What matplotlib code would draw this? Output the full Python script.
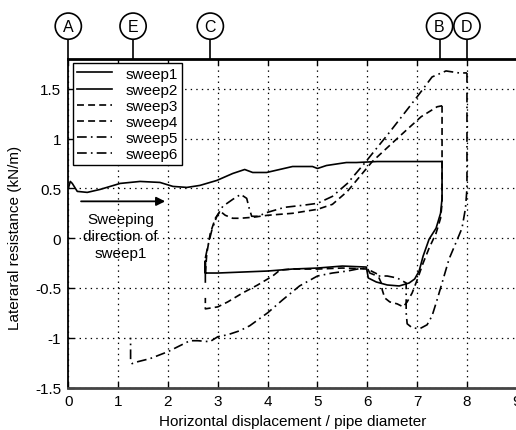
import matplotlib
matplotlib.use("Agg")
import matplotlib.pyplot as plt
import matplotlib.transforms as mtransforms

plt.rcParams['font.family'] = ['Liberation Sans', 'DejaVu Sans']
plt.rcParams['lines.scale_dashes'] = False

# ---- data ----
x1 = [0.0, 0.04, 0.08, 0.18, 0.38, 0.64, 1.04, 1.44, 1.84, 2.1, 2.38, 2.64, 2.98, 3.3, 3.54,
      3.7, 3.98, 4.5, 4.9, 5.0, 5.18, 5.58, 5.78, 6.2, 6.6, 7.0, 7.5]
y1 = [0.5, 0.57, 0.55, 0.47, 0.46, 0.49, 0.55, 0.57, 0.56, 0.52, 0.51, 0.53, 0.58, 0.65, 0.69,
      0.66, 0.66, 0.72, 0.72, 0.70, 0.73, 0.76, 0.76, 0.77, 0.77, 0.77, 0.77]

x2 = [7.5, 7.5, 7.47, 7.38, 7.24, 7.12, 7.04, 6.95, 6.84, 6.64, 6.4, 6.18, 6.02, 5.98, 5.5,
      5.0, 4.5, 4.0, 3.5, 3.0, 2.75, 2.75, 2.75]
y2 = [0.77, 0.4, 0.25, 0.1, -0.01, -0.18, -0.33, -0.41, -0.45, -0.48, -0.47, -0.44, -0.4,
      -0.29, -0.28, -0.3, -0.31, -0.33, -0.34, -0.35, -0.35, -0.23, -0.44]

x3 = [2.75, 2.78, 2.85, 2.95, 3.05, 3.15, 3.3, 3.45, 3.7, 4.0, 4.5, 5.0, 5.3, 5.6, 6.1,
      6.64, 7.08, 7.4, 7.5]
y3 = [-0.35, -0.15, 0.05, 0.2, 0.27, 0.23, 0.2, 0.2, 0.21, 0.23, 0.25, 0.29, 0.34, 0.47,
      0.77, 1.02, 1.22, 1.32, 1.33]

x4 = [7.5, 7.5, 7.47, 7.38, 7.24, 7.12, 7.0, 6.9, 6.8, 6.72, 6.6, 6.45, 6.35, 6.3, 6.28,
      6.2, 6.0, 5.5, 5.0, 4.5, 4.25, 4.1, 3.8, 3.5, 3.2, 3.0, 2.75, 2.75]
y4 = [1.33, 0.35, 0.2, 0.05, -0.1, -0.25, -0.42, -0.55, -0.64, -0.69, -0.66, -0.64, -0.6,
      -0.52, -0.45, -0.36, -0.31, -0.3, -0.31, -0.31, -0.32, -0.38, -0.47, -0.55, -0.64,
      -0.69, -0.71, -0.6]

x5 = [2.75, 2.8, 2.88, 2.98, 3.1, 3.3, 3.46, 3.58, 3.63, 3.68, 3.8, 4.0, 4.34, 4.7, 5.0,
      5.3, 5.6, 5.94, 6.44, 7.0, 7.3, 7.58, 7.84, 8.0]
y5 = [-0.2, -0.08, 0.08, 0.22, 0.32, 0.39, 0.44, 0.4, 0.3, 0.22, 0.22, 0.26, 0.31, 0.33,
      0.35, 0.42, 0.55, 0.75, 1.06, 1.42, 1.62, 1.68, 1.66, 1.66]

x6 = [8.0, 8.0, 7.97, 7.9, 7.8, 7.64, 7.5, 7.4, 7.3, 7.2, 7.05, 6.9, 6.8, 6.78, 6.78, 6.6,
      6.4, 6.2, 6.05, 6.0, 5.8, 5.6, 5.3, 5.0, 4.64, 4.3, 4.0, 3.64, 3.44, 3.2, 3.0, 2.84,
      2.6, 2.44, 2.2, 2.0, 1.64, 1.4, 1.28, 1.25, 1.25]
y6 = [1.66, 0.5, 0.3, 0.1, -0.02, -0.21, -0.45, -0.62, -0.78, -0.87, -0.91, -0.9, -0.86,
      -0.75, -0.45, -0.4, -0.38, -0.38, -0.35, -0.3, -0.31, -0.33, -0.35, -0.38, -0.48,
      -0.62, -0.75, -0.88, -0.93, -0.97, -0.99, -1.04, -1.03, -1.03, -1.09, -1.14, -1.21,
      -1.24, -1.26, -1.22, -1.0]

series_labels = ['sweep1', 'sweep2', 'sweep3', 'sweep4', 'sweep5', 'sweep6']
marker_labels = ['A', 'E', 'C', 'B', 'D']
marker_x = [0.0, 1.3, 2.85, 7.45, 8.0]
xticks = [0, 1, 2, 3, 4, 5, 6, 7, 8, 9]
yticks = [-1.5, -1, -0.5, 0, 0.5, 1, 1.5]
ytick_labels = ['-1.5', '-1', '-0.5', '0', '0.5', '1', '1.5']

# ---- figure ----
W, H = 516, 431
fig = plt.figure(figsize=(W / 100, H / 100), dpi=100)
ax = fig.add_axes([68.3 / W, (H - 388.5) / H, (516.8 - 68.3) / W, (388.5 - 60) / H])

solid = '-'
dashed = (0, (5, 3))
dashdot = (0, (7, 3, 1.2, 3))
styles = [solid, solid, dashed, dashed, dashdot, dashdot]
xs = [x1, x2, x3, x4, x5, x6]
ys = [y1, y2, y3, y4, y5, y6]
handles = []
for xx, yy, ls, lab in zip(xs, ys, styles, series_labels):
    h, = ax.plot(xx, yy, color='black', lw=1.2, linestyle=ls, label=lab)
    handles.append(h)

ax.set_xlim(0, 9)
ax.set_ylim(-1.5, 1.8)
ax.set_xticks(xticks)
ax.set_yticks(yticks)
ax.set_yticklabels(ytick_labels)
ax.tick_params(direction='in', length=4, width=1, labelsize=11, top=True, right=False,
               pad=5, colors='black')
ax.grid(True, color='black', linestyle=(0, (1, 3)), linewidth=0.9)

ax.spines['top'].set_linewidth(2.0)
ax.spines['bottom'].set_linewidth(2.0)
ax.spines['bottom'].set_color('#444444')
ax.spines['left'].set_linewidth(1.3)
ax.spines['right'].set_visible(False)

ax.set_xlabel('Horizontal displacement / pipe diameter', fontsize=11, labelpad=4)
ax.set_ylabel('Lateraral resistance (kN/m)', fontsize=11)
ax.yaxis.set_label_coords(-0.103, 0.457)

leg = ax.legend(handles=handles, loc='upper left', bbox_to_anchor=(0.0105, 0.988),
                borderaxespad=0, fontsize=11, frameon=True, fancybox=False,
                edgecolor='black', framealpha=1, labelspacing=0.14,
                handlelength=2.3, handletextpad=0.9, borderpad=0.25)
leg.get_frame().set_linewidth(1.0)

# Sweeping direction arrow and text
ax.annotate('', xy=(2.0, 0.37), xytext=(0.2, 0.37),
            arrowprops=dict(arrowstyle='-|>', color='black', lw=1.3, mutation_scale=13))
ax.text(1.05, 0.02, 'Sweeping\ndirection of\nsweep1', ha='center', va='center',
        fontsize=11, linespacing=1.25)

# Circled markers above the axes
trans = mtransforms.blended_transform_factory(ax.transData, ax.transAxes)
for lab, mx in zip(marker_labels, marker_x):
    ax.plot([mx, mx], [1.0, 1.067], transform=trans, color='black', lw=1.2, clip_on=False)
    ax.text(mx, 1.1, lab, transform=trans, ha='center', va='center', fontsize=11.5,
            bbox=dict(boxstyle='circle,pad=0.35', fc='white', ec='black', lw=1.2),
            clip_on=False)

fig.savefig('out.png', dpi=100)
